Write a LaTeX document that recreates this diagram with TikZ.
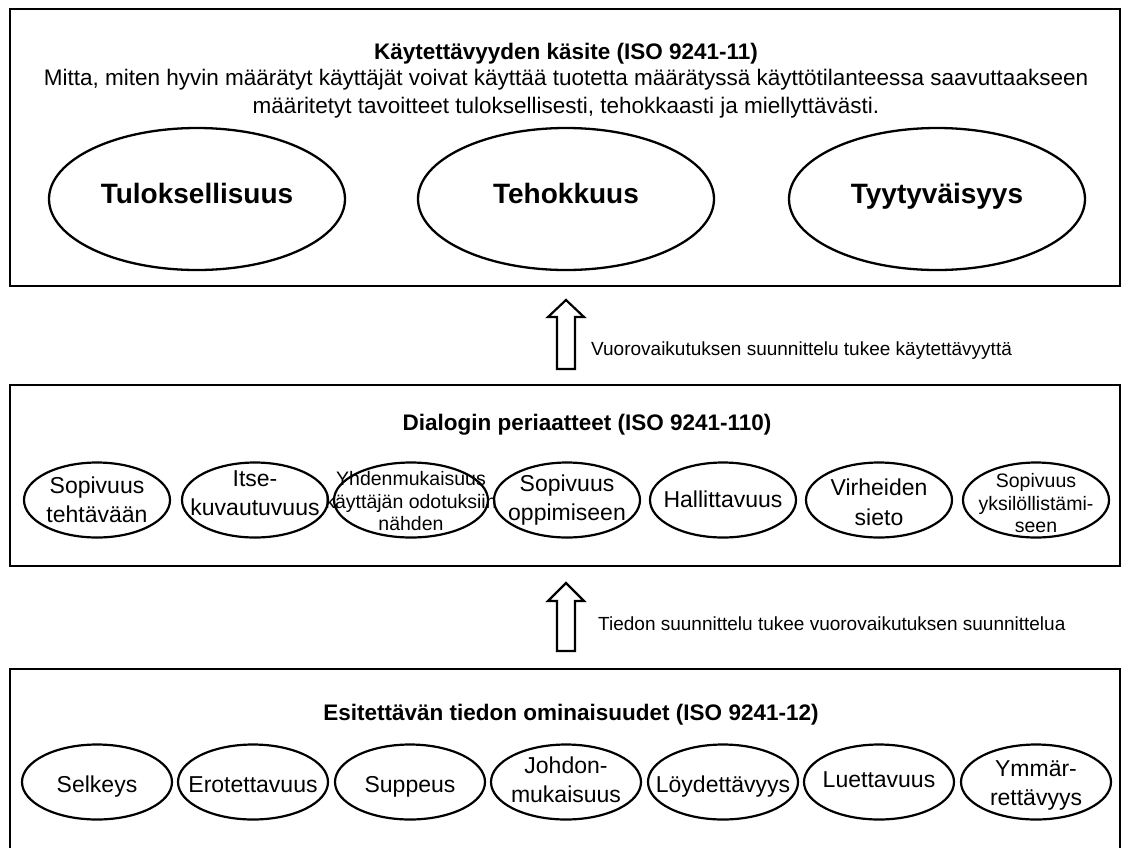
\documentclass[tikz,border=0pt]{standalone}
\usepackage{fontspec}
\setmainfont{Liberation Sans}
\usetikzlibrary{shapes.geometric,calc}

\tikzset{
  panel/.style={draw=black, line width=2.4pt, rectangle, inner sep=0pt},
  bigoval/.style={draw=black, line width=2.3pt, ellipse, inner sep=0pt,
    minimum width=296pt, minimum height=142pt},
  bigtext/.style={font=\fontsize{28}{32}\selectfont\bfseries, inner sep=0pt, anchor=base},
  oval/.style={draw=black, line width=2.2pt, ellipse, inner sep=0pt,
    minimum width=146pt, minimum height=75pt},
  ovaltext/.style={align=center, inner sep=0pt, anchor=base, font=\fontsize{23}{29.5}\selectfont},
  smalltext/.style={align=center, inner sep=0pt, anchor=base, font=\fontsize{19.5}{22.5}\selectfont},
  heading/.style={font=\fontsize{22.5}{26}\selectfont\bfseries, align=center, inner sep=0pt, anchor=base},
  remark/.style={font=\fontsize{19}{22}\selectfont, anchor=west, inner sep=0pt},
  blockarrow/.style={draw=black, line width=2.2pt, fill=white, line join=miter}
}

\begin{document}
\begin{tikzpicture}[x=1pt, y=-1pt]
  \useasboundingbox (0,0) rectangle (1122,847);
  \clip (0,0) rectangle (1122,847);

  % ---- usability concept (ISO 9241-11) ----
  \node[panel, minimum width=1110pt, minimum height=277pt] (usab) at (565,147.5) {};
  \node[heading] (usabtitle) at (566,59) {Käytettävyyden käsite (ISO 9241-11)};
  \node[font=\fontsize{22.5}{28}\selectfont, align=center, inner sep=0pt] (usabdef) at (566,94)
    {Mitta, miten hyvin määrätyt käyttäjät voivat käyttää tuotetta määrätyssä käyttötilanteessa saavuttaakseen\\
     määritetyt tavoitteet tuloksellisesti, tehokkaasti ja miellyttävästi.};
  \node[bigoval] (tulos) at (197,199) {};
  \node[bigoval] (teho)  at (566,199) {};
  \node[bigoval] (tyyty) at (937,199) {};
  \node[bigtext] at (197,203) {Tuloksellisuus};
  \node[bigtext] at (566,203) {Tehokkuus};
  \node[bigtext] at (937,203) {Tyytyväisyys};

  % ---- dialogue principles (ISO 9241-110) ----
  \node[panel, minimum width=1110pt, minimum height=181pt] (dial) at (565,475.5) {};
  \node[heading] (dialtitle) at (587,430) {Dialogin periaatteet (ISO 9241-110)};
  \node[oval] (d1) at (97,500)   {};
  \node[oval] (d2) at (255,500)  {};
  \node[oval, minimum width=154pt] (d3) at (411,500) {};
  \node[oval] (d4) at (567,500)  {};
  \node[oval] (d5) at (723,500)  {};
  \node[oval] (d6) at (879,500)  {};
  \node[oval] (d7) at (1036,500) {};
  \node[ovaltext]  at (97,522.5)   {Sopivuus\\tehtävään};
  \node[ovaltext]  at (255,515.5)  {Itse-\\kuvautuvuus};
  \node[smalltext] at (411,530.5)  {Yhdenmukaisuus\\käyttäjän odotuksiin\\nähden};
  \node[ovaltext]  at (567,520.5)  {Sopivuus\\oppimiseen};
  \node[ovaltext]  at (723,507.5)  {Hallittavuus};
  \node[ovaltext]  at (879,525)    {Virheiden\\sieto};
  \node[smalltext] at (1036,532.5) {Sopivuus\\yksilöllistämi-\\seen};

  % ---- presented information (ISO 9241-12) ----
  \node[panel, minimum width=1110pt, minimum height=220pt] (info) at (565,779) {};
  \node[heading] (infotitle) at (571,720) {Esitettävän tiedon ominaisuudet (ISO 9241-12)};
  \node[oval, minimum width=150pt] (i1) at (97,782)   {};
  \node[oval, minimum width=150pt] (i2) at (253,782)  {};
  \node[oval, minimum width=150pt] (i3) at (410,782)  {};
  \node[oval, minimum width=150pt] (i4) at (566,782)  {};
  \node[oval, minimum width=150pt] (i5) at (723,782)  {};
  \node[oval, minimum width=150pt] (i6) at (879,782)  {};
  \node[oval, minimum width=150pt] (i7) at (1036,782) {};
  \node[ovaltext] at (97,792)    {Selkeys};
  \node[ovaltext] at (253,792.5) {Erotettavuus};
  \node[ovaltext] at (410,792.5) {Suppeus};
  \node[ovaltext] at (566,802.5) {Johdon-\\mukaisuus};
  \node[ovaltext] at (723,792.5) {Löydettävyys};
  \node[ovaltext] at (879,787.5) {Luettavuus};
  \node[ovaltext] at (1036,805.5) {Ymmär-\\rettävyys};

  % ---- hollow block arrows between the layers ----
  \coordinate (up1foot) at (566,369);
  \coordinate (up1tip)  at (566,300);
  \draw[blockarrow] (up1foot) ++(-9,0) -- ++(0,-52) -- ++(-9,0) -- (up1tip)
    -- ++(18,17) -- ++(-9,0) -- ++(0,52) -- cycle;
  \node[remark] (up1text) at (591,351) {Vuorovaikutuksen suunnittelu tukee käytettävyyttä};

  \coordinate (up2foot) at (566,651);
  \coordinate (up2tip)  at (566,583);
  \draw[blockarrow] (up2foot) ++(-9,0) -- ++(0,-50) -- ++(-9,0) -- (up2tip)
    -- ++(18,18) -- ++(-9,0) -- ++(0,50) -- cycle;
  \node[remark] (up2text) at (598,624) {Tiedon suunnittelu tukee vuorovaikutuksen suunnittelua};
\end{tikzpicture}
\end{document}
